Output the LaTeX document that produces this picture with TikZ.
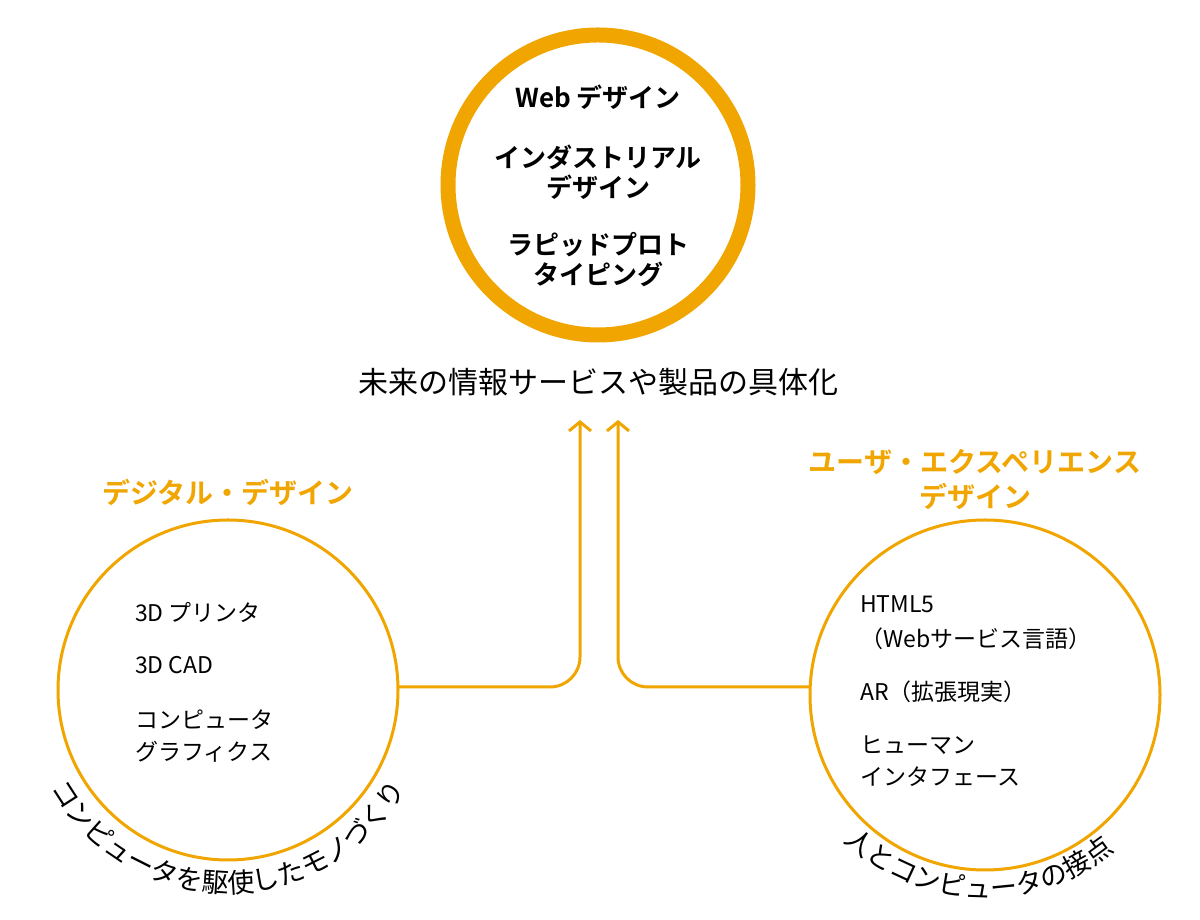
\documentclass[tikz,border=0pt]{standalone}
\usepackage{fontspec}
\setmainfont{Noto Sans CJK JP}[BoldFont={Noto Sans CJK JP Bold}]
\newfontfamily\cjk{Noto Sans CJK JP}
\usetikzlibrary{arrows.meta,decorations.text}
\definecolor{org}{RGB}{240,165,0}
\begin{document}
\begin{tikzpicture}[x=1pt,y=1pt,
  item/.style={anchor=west,inner sep=0,font=\fontsize{23}{23}\selectfont},
  topt/.style={inner sep=0,align=center,font=\bfseries\fontsize{26}{30}\selectfont},
  head/.style={inner sep=0,align=center,text=org,font=\bfseries\fontsize{28}{35}\selectfont},
  link/.style={org,line width=3pt,rounded corners=30pt,-{Straight Barb[length=9pt,width=22pt,line width=3pt]}}]
\useasboundingbox (0,0) rectangle (1200,920);
\draw[org,line width=15pt] (598,735) circle (150);
\node[topt] (t1) at (598,823) {Web デザイン};
\node[topt] (t2) at (598,748) {インダストリアル\\デザイン};
\node[topt] (t3) at (598,660) {ラピッドプロト\\タイピング};
\node[inner sep=0,font=\fontsize{30}{30}\selectfont] (main) at (598,538) {未来の情報サービスや製品の具体化};
\draw[org,line width=3pt] (228,230) circle (170);
\coordinate (lc) at (398,233);
\node[head] (lh) at (228,428) {デジタル・デザイン};
\node[item] (l1) at (135,308) {3D プリンタ};
\node[item] (l2) at (135,255) {3D CAD};
\node[item,align=left,font=\fontsize{23}{32}\selectfont] (l3) at (135,184) {コンピュータ\\グラフィクス};
\draw[org,line width=3pt] (985,225) circle (175);
\coordinate (rc) at (810,233);
\node[head] (rh) at (975,440) {ユーザ・エクスペリエンス\\デザイン};
\node[item,align=left,font=\fontsize{23}{35}\selectfont] (r1) at (860,297) {HTML5\\（Webサービス言語）};
\node[item] (r2) at (860,228) {AR（拡張現実）};
\node[item,align=left,font=\fontsize{23}{32}\selectfont] (r3) at (860,159) {ヒューマン\\インタフェース};
\coordinate (la) at (580,500);
\coordinate (ra) at (618,500);
\draw[link] (lc) -- (580,233) -- (la);
\draw[link] (rc) -- (618,233) -- (ra);
\path[decorate,decoration={text along path,text align=center,
  text={|\cjk\fontsize{27}{27}\selectfont|コンピュータを駆使したモノづくり}}]
  (228,230) ++(190:203) arc (190:350:203);
\path[decorate,decoration={text along path,text align=center,
  text={|\cjk\fontsize{27}{27}\selectfont|人とコンピュータの接点}}]
  (985,225) ++(212:203) arc (212:324:203);
\end{tikzpicture}
\end{document}
